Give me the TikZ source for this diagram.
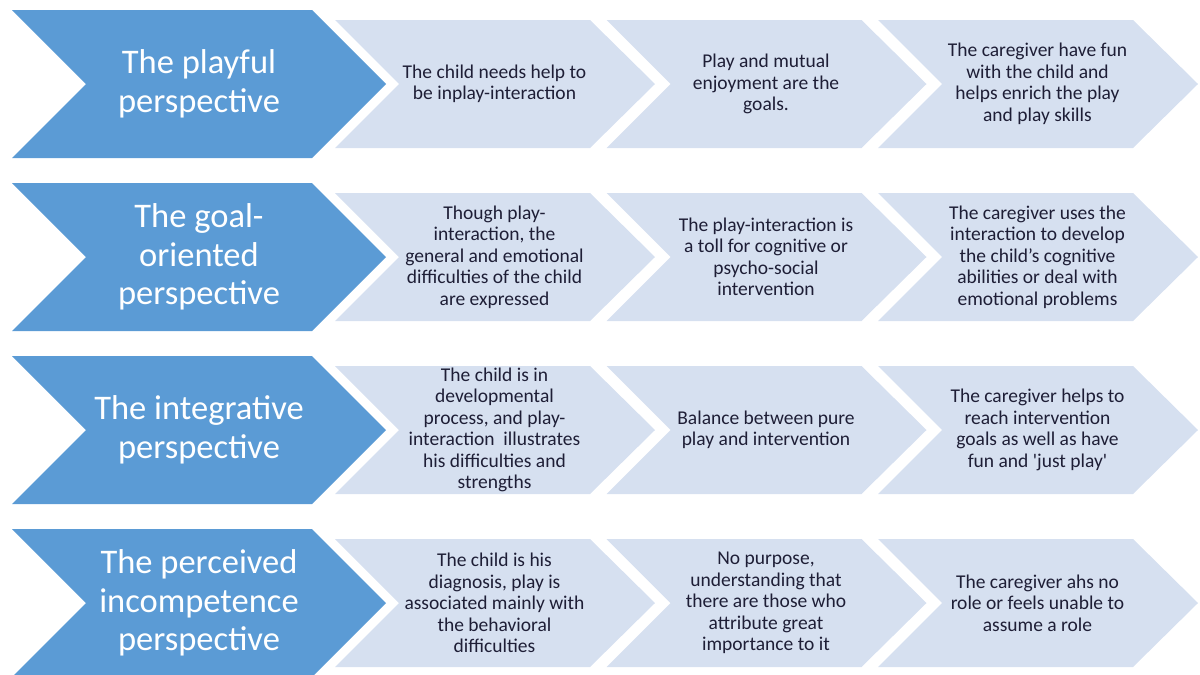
\documentclass[tikz,border=0pt]{standalone}
\usepackage{fontspec}
\setmainfont{Carlito}[Ligatures=TeXOff]
\definecolor{bluechev}{HTML}{5B9BD5}
\definecolor{lightchev}{HTML}{D6E0F0}
\definecolor{txtdark}{HTML}{1E1E36}
\begin{document}
\begin{tikzpicture}[x=1pt,y=-1pt,
  bluefill/.style={fill=bluechev},
  lightfill/.style={fill=lightchev},
  bluetxt/.style={text=white,font=\fontsize{34.5}{38.5}\selectfont,align=center,inner sep=0pt},
  lighttxt/.style={text=txtdark,font=\fontsize{19.5}{21.5}\selectfont,align=center,inner sep=0pt}]
\useasboundingbox (0,0) rectangle (1200,675);
\foreach \yc in {84,257,430,603}{
  \fill[bluefill] (12,\yc-74) -- (312,\yc-74) -- (386,\yc) -- (312,\yc+74) -- (12,\yc+74) -- (86,\yc) -- cycle;
  \foreach \L in {335,606.5,878}{
    \fill[lightfill] (\L,\yc-64) -- (\L+255,\yc-64) -- (\L+320,\yc) -- (\L+255,\yc+64) -- (\L,\yc+64) -- (\L+64,\yc) -- cycle;
  }
}
% row 1
\node[bluetxt]  (b1) at (199,84) {The playful\\perspective};
\node[lighttxt] (a1) at (494.5,84) {The child needs help to\\be inplay-interaction};
\node[lighttxt] (a2) at (766,84) {Play and mutual\\enjoyment are the\\goals.};
\node[lighttxt] (a3) at (1037.5,84) {The caregiver have fun\\with the child and\\helps enrich the play\\and play skills};
% row 2
\node[bluetxt]  (b2) at (199,257) {The goal-\\oriented\\perspective};
\node[lighttxt] (c1) at (494.5,257) {Though play-\\interaction, the\\general and emotional\\difficulties of the child\\are expressed};
\node[lighttxt] (c2) at (766,257) {The play-interaction is\\a toll for cognitive or\\psycho-social\\intervention};
\node[lighttxt] (c3) at (1037.5,257) {The caregiver uses the\\interaction to develop\\the child’s cognitive\\abilities or deal with\\emotional problems};
% row 3
\node[bluetxt]  (b3) at (199,430) {The integrative\\perspective};
\node[lighttxt] (d1) at (494.5,430) {The child is in\\developmental\\process, and play-\\interaction\ \ illustrates\\his difficulties and\\strengths};
\node[lighttxt] (d2) at (766,430) {Balance between pure\\play and intervention};
\node[lighttxt] (d3) at (1037.5,430) {The caregiver helps to\\reach intervention\\goals as well as have\\fun and 'just play'};
% row 4
\node[bluetxt]  (b4) at (199,603) {The perceived\\incompetence\\perspective};
\node[lighttxt] (e1) at (494.5,603) {The child is his\\diagnosis, play is\\associated mainly with\\the behavioral\\difficulties};
\node[lighttxt] (e2) at (766,603) {No purpose,\\understanding that\\there are those who\\attribute great\\importance to it};
\node[lighttxt] (e3) at (1037.5,603) {The caregiver ahs no\\role or feels unable to\\assume a role};
\end{tikzpicture}
\end{document}
